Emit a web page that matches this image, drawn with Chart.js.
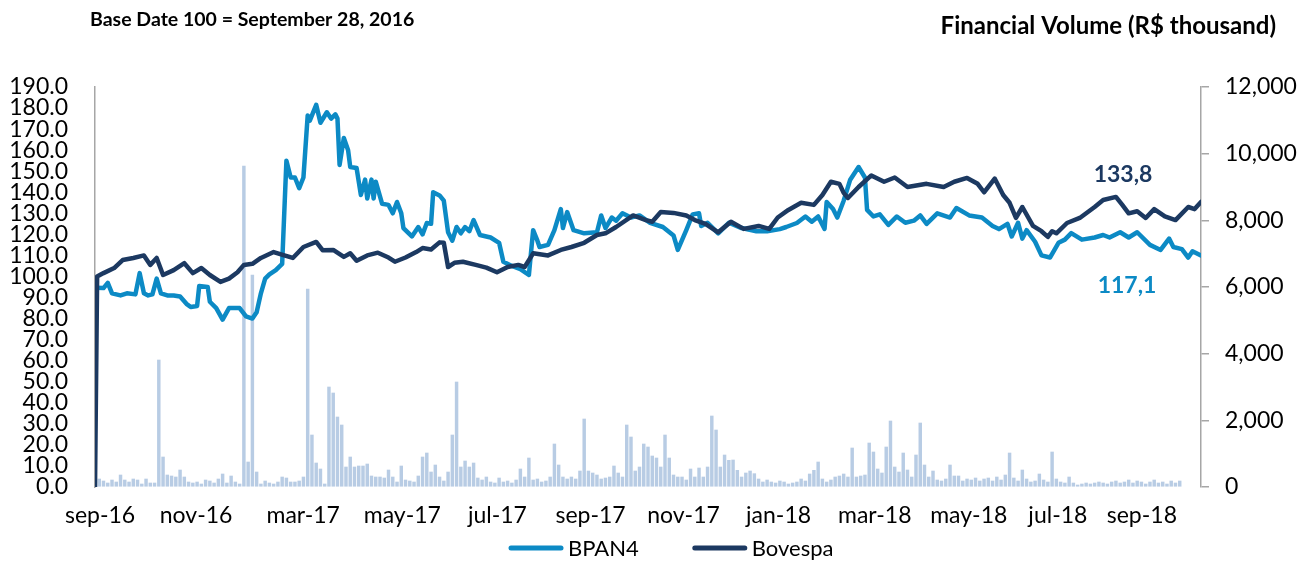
<!DOCTYPE html>
<html>
<head>
<meta charset="utf-8">
<script src="https://cdn.jsdelivr.net/npm/chart.js@4.4.0/dist/chart.umd.min.js"></script>
<style>
  html, body { margin: 0; padding: 0; background: #fff; }
</style>
</head>
<body>
<canvas id="bpanChart" width="1315" height="563"></canvas>
<script>
// x values are trading days counted from the base date (0 = Sep 28, 2016)
const xTickLabels = ['sep-16', 'nov-16', 'mar-17', 'may-17', 'jul-17', 'sep-17',
    'nov-17', 'jan-18', 'mar-18', 'may-18', 'jul-18', 'sep-18'];
const xTickDays = [2.4, 47.5, 97.9, 144.5, 189.2, 233, 276.7, 321.4, 366.6, 410.8, 452.7, 492.2];

// [day, index value] (base 100)
const bpanPoints = [
    [0, 94.7], [4, 94.5], [6, 97], [8, 92], [12, 91], [15, 92], [19, 91.5], [21, 101.6],
    [23, 92], [25, 91], [27, 91.5], [29, 99], [31, 92], [34, 91], [37, 91], [40, 90.5],
    [43, 87], [45, 85.5], [48, 86], [49, 95.5], [53, 95], [54, 88], [57, 85], [60, 79.5],
    [63, 85], [68, 85], [71, 81], [74, 80], [76, 83], [78, 92], [80, 99], [82, 101],
    [85, 103], [88, 106], [90, 155], [92, 147], [94, 147], [96, 142], [98, 147], [100, 176.5],
    [101, 174], [104, 181.5], [106, 173], [109, 178], [111, 175], [113, 177], [114, 175], [115, 153],
    [117, 165.8], [119, 160], [120, 152], [123, 151.5], [125, 138.7], [127, 146], [128, 137], [130, 146],
    [131, 137], [132, 145], [135, 134.5], [138, 134], [140, 130], [142, 135.4], [144, 130], [145, 123],
    [149, 119], [152, 123.5], [154, 120], [156, 125.4], [158, 125], [159, 140], [162, 138.5], [164, 136],
    [166, 121], [168, 117], [170, 123.5], [172, 120.5], [174, 123.5], [176, 121.5], [178, 126.8], [181, 119.7],
    [186, 118.5], [190, 116], [192, 107], [196, 105], [200, 103.5], [204, 100.7], [206, 122], [208, 117],
    [209, 114], [213, 115], [216, 122], [219, 132], [220, 123], [222, 130.6], [225, 122], [230, 120.5],
    [236, 121], [238, 129], [240, 123], [243, 128], [245, 126.5], [248, 130], [252, 128], [256, 129],
    [261, 125.5], [267, 123.5], [272, 119.5], [274, 112.6], [278, 122], [281, 129.5], [284, 130], [285, 124],
    [288, 125.5], [293, 120.5], [298, 125.5], [304, 123], [311, 121.5], [316, 121.5], [322, 122.5], [325, 123.5],
    [330, 125.4], [334, 128.5], [337, 126], [340, 128.5], [343, 122.6], [344, 135.4], [347, 132], [349, 128],
    [352, 136], [355, 145.8], [359, 152], [362, 147], [363, 131.6], [366, 128.5], [369, 129.5], [373, 124.5],
    [377, 128.5], [381, 125.5], [385, 126.5], [388, 129], [391, 125], [396, 130], [402, 128], [405, 132.5],
    [411, 129], [417, 128], [422, 124], [425, 122.5], [429, 125], [431, 119], [434, 125.5], [436, 118],
    [438, 122], [442, 116.5], [445, 110], [449, 109], [453, 116], [456, 117.5], [459, 120.6], [464, 117.5],
    [470, 118.5], [474, 119.7], [477, 118.5], [482, 121], [486, 118.5], [490, 121], [496, 115], [501, 112.6],
    [505, 118], [507, 114], [511, 113], [514, 109], [516, 112], [520, 110]
];

const bovespaPoints = [
    [0, 0], [1, 100], [4, 101.6], [9, 104], [13, 107.8], [18, 108.8], [23, 110], [26, 105.5],
    [29, 108.8], [32, 100.7], [37, 103], [42, 106.3], [46, 101.6], [50, 104], [54, 100.7], [59, 97.4],
    [63, 99], [67, 102], [70, 105.5], [74, 106], [78, 108.8], [84, 111.6], [89, 110], [93, 108.8],
    [98, 114], [104, 116.4], [107, 112.5], [112, 112.6], [117, 109.3], [120, 111], [123, 107.5], [128, 110],
    [133, 111.3], [138, 109], [141, 107], [146, 109], [151, 111.6], [154, 113.5], [158, 112.8], [162, 116.2],
    [164, 116], [166, 104.5], [169, 106.5], [173, 107], [179, 105.5], [184, 104.2], [189, 102], [194, 104.5],
    [199, 105.5], [202, 104.5], [206, 111], [213, 110], [219, 112.6], [224, 114], [230, 116], [236, 119.7],
    [240, 120.5], [245, 123.5], [253, 129], [259, 126.8], [262, 126], [266, 130.6], [272, 130.2], [278, 129],
    [282, 126.8], [287, 125], [293, 121], [299, 126], [305, 122.6], [312, 124], [317, 122.6], [321, 128],
    [326, 131.6], [332, 135], [338, 134], [342, 138.7], [346, 145], [350, 144], [352, 139.7], [354, 137.3],
    [359, 142.5], [365, 148], [371, 145], [376, 147], [382, 142.5], [391, 144], [399, 142.5], [404, 145],
    [410, 146.8], [415, 144], [418, 140], [423, 146.5], [427, 138.7], [430, 135], [433, 127.8], [436, 133],
    [441, 124], [445, 121.5], [448, 118.8], [450, 121.5], [452, 120.5], [457, 125.4], [463, 127.8], [470, 133],
    [474, 136.3], [480, 137.8], [483, 134], [486, 130], [490, 131], [494, 127.8], [498, 132], [503, 128.5],
    [508, 126.8], [514, 133], [517, 132], [520, 135.4]
];

// financial volume (R$ thousand), one value for every second trading day
const volumeValues = [
    270, 240, 180, 120, 210, 150, 360, 210, 150, 240, 210, 90, 240, 120, 120, 3810, 900, 360, 330, 300,
    510, 300, 150, 120, 150, 90, 210, 180, 120, 240, 390, 120, 330, 150, 90, 9630, 750, 6360, 450, 90,
    180, 120, 90, 150, 300, 270, 150, 150, 180, 300, 5940, 1560, 720, 540, 90, 3000, 2820, 2100, 1860, 600,
    900, 600, 630, 630, 690, 330, 300, 300, 270, 510, 300, 150, 630, 210, 180, 150, 330, 900, 1020, 450,
    660, 300, 180, 450, 1560, 3150, 600, 780, 600, 720, 270, 210, 300, 150, 120, 270, 150, 180, 120, 210,
    540, 300, 870, 210, 240, 150, 180, 300, 1290, 660, 300, 240, 300, 240, 480, 2040, 480, 420, 360, 240,
    270, 300, 630, 420, 300, 1860, 1500, 480, 600, 1290, 1200, 930, 870, 600, 1560, 870, 360, 300, 300, 210,
    540, 300, 570, 300, 600, 2130, 1710, 600, 960, 800, 810, 500, 300, 420, 480, 400, 240, 150, 210, 150,
    120, 180, 150, 90, 120, 150, 240, 180, 390, 500, 750, 240, 150, 210, 300, 330, 390, 300, 1170, 300,
    330, 360, 1320, 1050, 540, 420, 1200, 1980, 600, 450, 1020, 510, 300, 960, 1920, 660, 300, 480, 210, 180,
    240, 660, 330, 330, 180, 240, 210, 270, 180, 240, 270, 180, 300, 210, 360, 1020, 270, 180, 510, 240,
    150, 180, 390, 210, 150, 1050, 240, 150, 120, 300, 120, 60, 90, 120, 90, 120, 150, 120, 90, 150,
    180, 120, 150, 210, 120, 180, 150, 90, 150, 210, 120, 150, 90, 180, 120, 180
];

const lastBpan = '117,1';
const lastBovespa = '133,8';
const leftTitle = 'Base Date 100 = September 28, 2016';
const rightTitle = 'Financial Volume (R$ thousand)';

const bpanColor = '#0c8ac5';
const bovespaColor = '#1c3961';
const volumeColor = '#b8cce4';
const axisColor = '#a6a6a6';
const fontName = 'Lato';

const tickFont = { family: fontName, size: 23 };

// titles, closing values and legend
const chartText = {
    id: 'chartText',
    afterDraw(chart) {
        const ctx = chart.ctx;
        const area = chart.chartArea;
        ctx.save();
        ctx.fillStyle = '#000';
        ctx.textBaseline = 'alphabetic';
        ctx.font = 'bold 19.5px ' + fontName;
        ctx.textAlign = 'left';
        ctx.fillText(leftTitle, 90, 26);
        ctx.font = 'bold 24px ' + fontName;
        ctx.textAlign = 'right';
        ctx.fillText(rightTitle, 1276, 34);

        ctx.font = 'bold 23px ' + fontName;
        ctx.textAlign = 'center';
        ctx.textBaseline = 'middle';
        ctx.fillStyle = bovespaColor;
        ctx.fillText(lastBovespa, area.right - 78, 175);
        ctx.fillStyle = bpanColor;
        ctx.fillText(lastBpan, area.right - 74, 286);

        // legend
        let x = 511;
        const y = 548;
        ctx.font = '22px ' + fontName;
        ctx.textAlign = 'left';
        chart.data.datasets.slice(0, 2).forEach(ds => {
            ctx.strokeStyle = ds.borderColor;
            ctx.lineWidth = 5;
            ctx.lineCap = 'round';
            ctx.beginPath();
            ctx.moveTo(x, y);
            ctx.lineTo(x + 50, y);
            ctx.stroke();
            ctx.fillStyle = '#000';
            ctx.fillText(ds.label, x + 57, y + 1);
            x += 57 + ctx.measureText(ds.label).width + 56;
        });
        ctx.restore();
    }
};

const data = {
    datasets: [{
        label: 'BPAN4',
        data: bpanPoints.map(p => ({ x: p[0], y: p[1] })),
        borderColor: bpanColor,
        borderWidth: 4.5,
        pointRadius: 0,
        tension: 0,
        borderJoinStyle: 'round',
        borderCapStyle: 'round',
        yAxisID: 'y',
        order: 2
    }, {
        label: 'Bovespa',
        data: bovespaPoints.map(p => ({ x: p[0], y: p[1] })),
        borderColor: bovespaColor,
        borderWidth: 4.5,
        pointRadius: 0,
        tension: 0,
        borderJoinStyle: 'round',
        borderCapStyle: 'round',
        yAxisID: 'y',
        order: 1
    }, {
        type: 'bar',
        label: 'Financial Volume',
        data: volumeValues.map((v, i) => ({ x: i * 2, y: v })),
        backgroundColor: volumeColor,
        borderWidth: 0,
        barThickness: 2.8,
        yAxisID: 'y1',
        order: 3
    }]
};

const configChart = {
    type: 'line',
    data: data,
    options: {
        responsive: false,
        animation: false,
        layout: { padding: { top: 87, left: 0, right: 0, bottom: 0 } },
        plugins: {
            legend: { display: false },
            tooltip: { enabled: false }
        },
        scales: {
            x: {
                type: 'linear',
                min: 0,
                max: 520,
                offset: false,
                grid: { display: false, offset: false },
                border: { display: false },
                afterBuildTicks: scale => { scale.ticks = xTickDays.map(v => ({ value: v })); },
                afterFit: scale => { scale.height = 76; },
                ticks: {
                    autoSkip: false,
                    maxRotation: 0,
                    padding: 7,
                    font: tickFont,
                    color: '#000',
                    callback: (value, index) => xTickLabels[index]
                }
            },
            y: {
                position: 'left',
                min: 0,
                max: 190,
                afterFit: scale => { scale.width = 95; },
                grid: { display: false },
                border: { display: true, color: axisColor, width: 1.5 },
                ticks: {
                    stepSize: 10,
                    autoSkip: false,
                    padding: 19,
                    font: tickFont,
                    color: '#000',
                    callback: v => v.toFixed(1)
                }
            },
            y1: {
                position: 'right',
                min: 0,
                max: 12000,
                afterFit: scale => { scale.width = 114; },
                grid: { drawOnChartArea: false, drawTicks: true, tickLength: 8, color: axisColor, lineWidth: 1.5 },
                border: { display: true, color: axisColor, width: 1.5 },
                ticks: {
                    stepSize: 2000,
                    autoSkip: false,
                    padding: 16,
                    font: tickFont,
                    color: '#000',
                    callback: v => v.toLocaleString('en-US')
                }
            }
        }
    },
    plugins: [chartText]
};

let chart = new Chart(document.getElementById('bpanChart'), configChart);
</script>
</body>
</html>
